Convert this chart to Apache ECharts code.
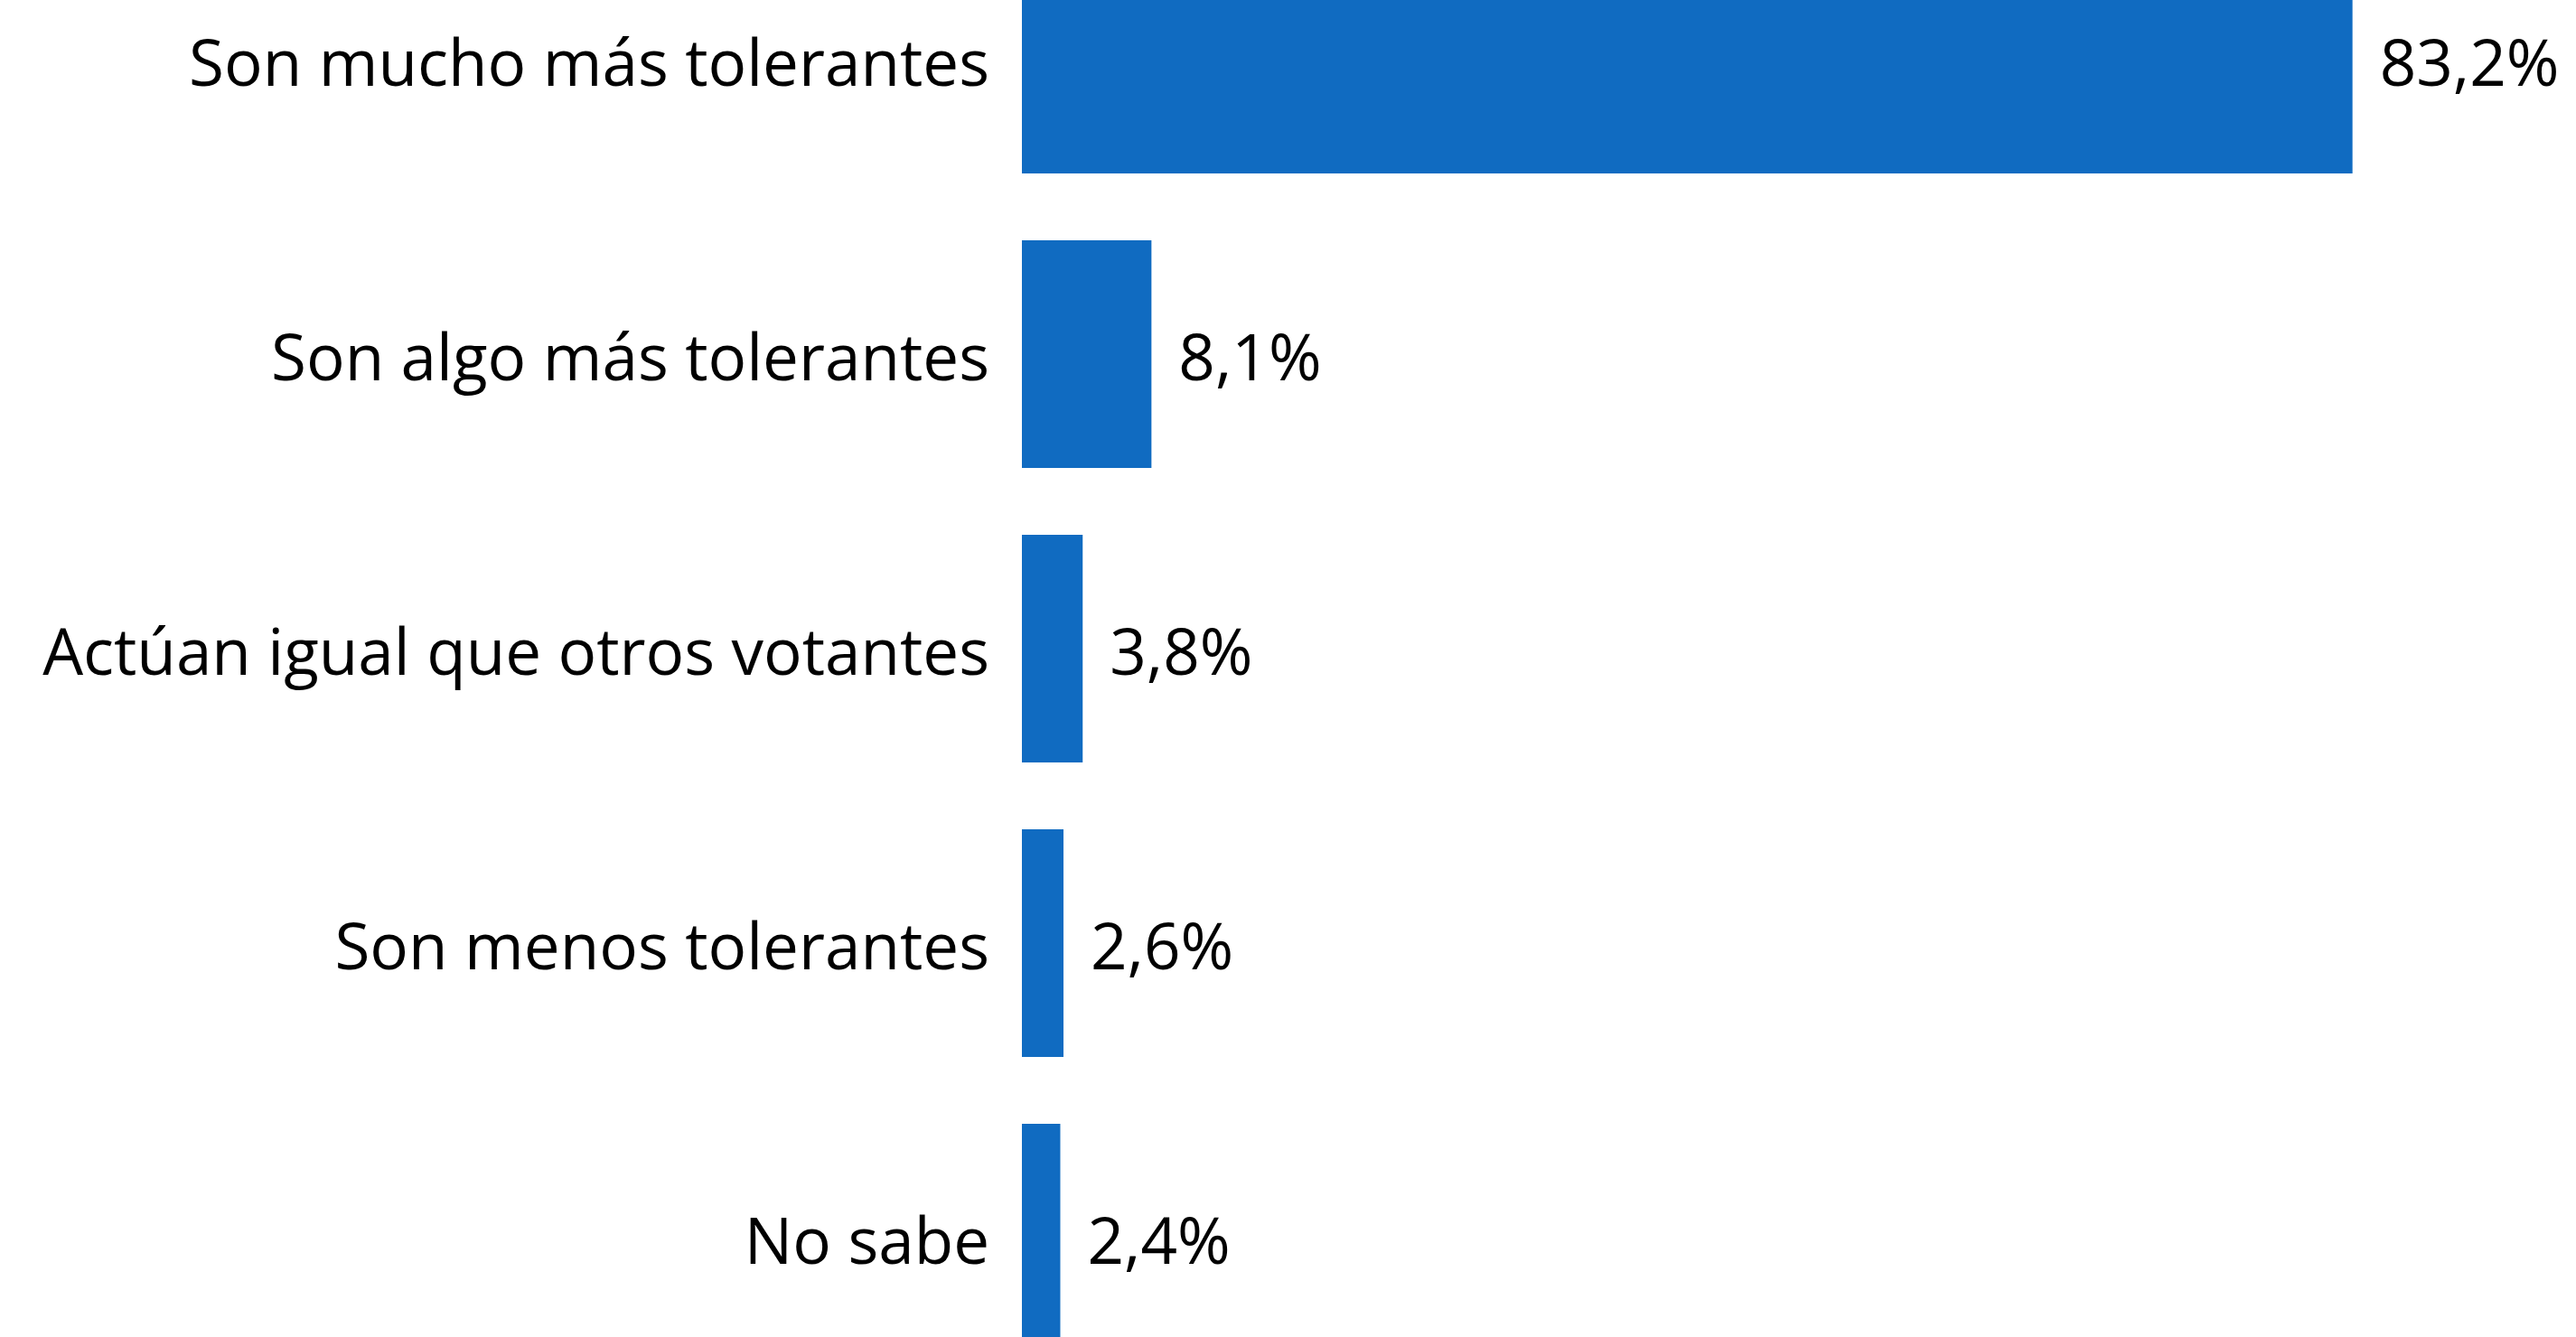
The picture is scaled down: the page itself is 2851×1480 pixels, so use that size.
<!DOCTYPE html>
<html><head><meta charset="utf-8">
<script src="https://cdn.jsdelivr.net/npm/echarts@6/dist/echarts.min.js"></script>
<style>html,body{margin:0;padding:0;background:#fff;overflow:hidden;width:2851px;height:1480px;position:relative}#c{position:absolute;left:0;top:-97px;width:2951px;height:1630px}</style>
</head><body><div id="c"></div>
<script>
const categories = ["Son mucho más tolerantes","Son algo más tolerantes","Actúan igual que otros votantes","Son menos tolerantes","No sabe"];
const values = [83.2, 8.1, 3.8, 2.6, 2.4];
const chart = echarts.init(document.getElementById('c'), null, {renderer:'canvas'});
const font = '"Open Sans", "Noto Sans", sans-serif';
chart.setOption({
  animation:false,
  grid:{left:1131, width:1770, top:0, height:1630, containLabel:false},
  xAxis:{type:'value', min:0, max:100, show:false},
  yAxis:{type:'category', data:categories, inverse:true,
    axisLine:{show:false}, axisTick:{show:false}, splitLine:{show:false},
    axisLabel:{color:'#000', fontFamily:font, fontSize:71, margin:36,
      formatter:v=>'{a|'+v+'}',
      rich:{a:{color:'#000', fontFamily:font, fontSize:71, padding:[18,0,0,0]}}}},
  series:[{type:'bar', data:values, barCategoryGap:'22.7%',
    itemStyle:{color:'#106BC1'},
    label:{show:true, position:'right', distance:30, offset:[0,9], color:'#000', fontFamily:font, fontSize:71,
      formatter:p=>String(p.value).replace('.',',')+'%'}}]
});
</script></body></html>
